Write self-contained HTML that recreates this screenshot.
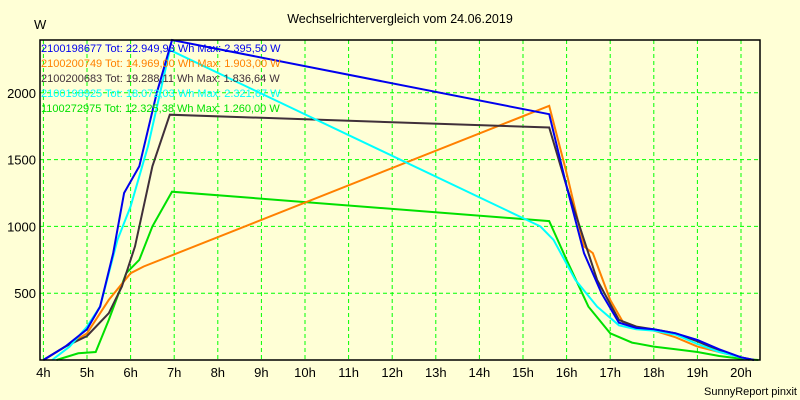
<!DOCTYPE html>
<html><head><meta charset="utf-8"><style>
body{margin:0;background:#FFFFD6;}
svg{display:block;font-family:"Liberation Sans",sans-serif;}
</style></head><body>
<svg id="c" width="800" height="400">
<rect x="0" y="0" width="800" height="400" fill="#FFFFD6"/>
<text x="400" y="23" text-anchor="middle" font-size="12.5" fill="#000">Wechselrichtervergleich vom 24.06.2019</text>
<text x="34" y="29" font-size="13" fill="#000">W</text>
<text x="797" y="395" text-anchor="end" font-size="11" fill="#000">SunnyReport pinxit</text>
<g id="grid"></g>
<g id="series"></g>
<rect x="40" y="40" width="720" height="320" fill="none" stroke="#000" stroke-width="1.5"/>
<g id="legend"></g>
</svg>
<script>
const xTicks=[4,5,6,7,8,9,10,11,12,13,14,15,16,17,18,19,20];
const yTicks=[500,1000,1500,2000];
const names=["2100198677 Tot: 22.949,93 Wh Max: 2.395,50 W","2100200749 Tot: 14.969,00 Wh Max: 1.903,00 W","2100200683 Tot: 19.288,11 Wh Max: 1.836,64 W","2100198925 Tot: 18.072,03 Wh Max: 2.321,67 W","1100272975 Tot: 12.325,38 Wh Max: 1.260,00 W"];
const colors=["#0000EE","#FF8000","#40303A","#00FFFF","#00E000"];
const blueT=[4,4.5,5,5.3,5.6,5.85,6.2,6.6,6.95,15.6,16,16.4,16.8,17.2,17.6,18,18.5,19,19.5,20,20.3];
const blueV=[0,100,230,400,800,1250,1450,2000,2395,1840,1300,800,500,280,240,230,200,150,80,20,0];
const orangeT=[4,4.5,5,5.5,6,6.3,15.6,16,16.4,16.6,17,17.3,17.6,18,18.5,19,19.5,20,20.2];
const orangeV=[0,100,200,450,650,700,1903,1400,850,800,450,280,240,220,170,100,60,20,0];
const darkT=[4,4.5,5,5.5,5.8,6.1,6.5,6.9,15.6,16,16.4,16.7,17.2,17.6,18,18.5,19,19.5,20,20.3];
const darkV=[0,100,180,350,550,850,1450,1836,1740,1300,900,600,300,250,230,200,140,70,20,0];
const cyanT=[4.2,4.6,5,5.3,5.7,6,6.4,6.9,15.4,15.7,16.2,16.7,17.2,17.6,18,18.5,19,19.5,20,20.2];
const cyanV=[0,100,250,400,900,1150,1600,2320,1000,900,600,400,260,230,220,190,120,60,20,0];
const greenT=[4.3,4.8,5.2,5.5,5.9,6.2,6.5,6.95,15.6,16,16.5,17,17.5,18,18.5,19,19.5,20,20.4];
const greenV=[0,50,60,300,650,750,1000,1260,1040,750,400,200,130,100,80,60,30,10,0];
const seriesT=[blueT,orangeT,darkT,cyanT,greenT];
const seriesV=[blueV,orangeV,darkV,cyanV,greenV];
const drawOrder=[4,1,2,3,0];
const X=h=>43.4+(h-4)*43.6;
const Y=v=>360-v*0.1336;
const NS="http://www.w3.org/2000/svg";
const grid=document.getElementById('grid');
function mk(t,a,p){const e=document.createElementNS(NS,t);for(const k in a)e.setAttribute(k,a[k]);p.appendChild(e);return e;}
xTicks.forEach(h=>{
 const l=mk('line',{x1:X(h),x2:X(h),y1:40,y2:360,stroke:'#00FF00','stroke-dasharray':'4,3'},grid);
 
 
 const t=mk('text',{x:X(h),y:377,'text-anchor':'middle','font-size':13},grid);
 t.textContent=h+'h';
 
 
});
yTicks.forEach(v=>{
 const l=mk('line',{x1:40,x2:760,y1:Y(v),y2:Y(v),stroke:'#00FF00','stroke-dasharray':'4,3'},grid);
 
 
 const t=mk('text',{x:36,y:Y(v)+5,'text-anchor':'end','font-size':13},grid);
 t.textContent=v;
 
 
});
const sg=document.getElementById('series');
drawOrder.forEach(i=>{
 const pts=seriesT[i].map((t,j)=>X(t).toFixed(1)+','+Y(seriesV[i][j]).toFixed(1)).join(' ');
 const p=mk('polyline',{points:pts,fill:'none',stroke:colors[i],'stroke-width':2},sg);
 
 
});
const lg=document.getElementById('legend');
names.forEach((n,i)=>{
 const t=mk('text',{x:41,y:52+i*15,'font-size':11,fill:colors[i]},lg);
 t.textContent=n;
 
 
});
</script>
</body></html>
